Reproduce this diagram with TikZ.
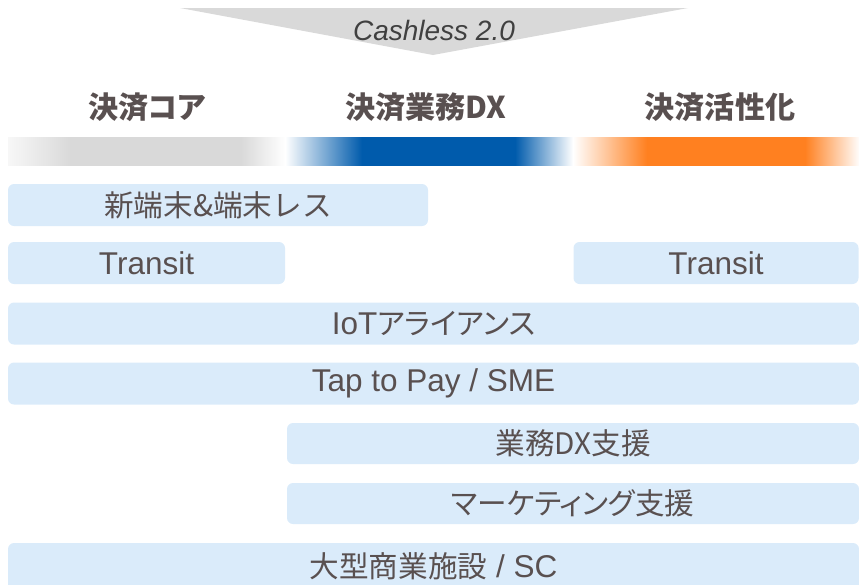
\documentclass[tikz,border=0pt]{standalone}
\usepackage{fontspec}
\setmainfont{Liberation Sans}
\newfontfamily\jp[Scale=0.94]{Noto Sans CJK JP}
\newfontfamily\jpp[Scale=0.94, RawFeature=+palt]{Noto Sans CJK JP}
\usepackage{tikz}
\usetikzlibrary{positioning}
\definecolor{txtgray}{HTML}{595050}
\definecolor{barblue}{HTML}{DAEBFA}
\definecolor{coreblue}{HTML}{005BAC}
\definecolor{coreorange}{HTML}{FF8020}
\definecolor{coregray}{HTML}{D9D9D9}
\tikzset{
  item/.style={fill=barblue, rounded corners=6pt, text=txtgray,
      inner sep=0pt, font=\fontsize{31.5}{32}\selectfont},
  phase/.style={text=txtgray, font=\fontsize{32}{32}\selectfont\jpp\bfseries},
}

\begin{document}
\begin{tikzpicture}[x=1pt, y=-1pt]
      \useasboundingbox (0,0) rectangle (859,584);
      \clip (0,0) rectangle (859,584);

      \fill [coregray] (180,8) -- (688,8) -- (433,55) -- cycle;
      \node (cashless) [text=black!75, font=\fontsize{28}{28}\selectfont\itshape] at (434,30) {Cashless 2.0};

      \node (core) [phase] at (147,107) {決済コア};
      \node (dx) [phase] at (426,107) {決済業務DX};
      \node (boost) [phase] at (720,107) {決済活性化};

      % gradient band
      \foreach \xa/\xb/\ca/\cb in {8/71/black!3/coregray, 71/241/coregray/coregray,
          241/285/coregray/white, 285/362/white/coreblue, 362/515/coreblue/coreblue,
          515/573/coreblue/white, 573/647/white/coreorange, 647/805/coreorange/coreorange,
          805/860/coreorange/white}{
          \shade [left color=\ca, right color=\cb] (\xa,137) rectangle (\xb,165);
        }

      \node (terminal) [item, minimum width=420pt, minimum height=42pt] at (218,205) {\jp 新端末\&端末レス};
      \node (transitL) [item, minimum width=277pt, minimum height=42pt] at (146.5,263) {Transit};
      \node (transitR) [item, minimum width=285pt, minimum height=42pt] at (716,263) {Transit};
      \node (iot) [item, minimum width=851pt, minimum height=42pt] at (433.5,323.5) {IoT{\jpp アライアンス}};
      \node (tap) [item, minimum width=851pt, minimum height=42pt] at (433.5,383.5) {Tap to Pay / SME};
      \node (bizdx) [item, minimum width=572pt, minimum height=41pt] at (573,443.5) {\jp 業務DX支援};
      \node (mkt) [item, minimum width=572pt, minimum height=41pt] at (573,503.5) {\jpp マーケティング支援};
      \node (mall) [item, minimum width=851pt, minimum height=47pt] at (433.5,566.5) {{\jp 大型商業施設} / SC};
    \end{tikzpicture}
\end{document}
